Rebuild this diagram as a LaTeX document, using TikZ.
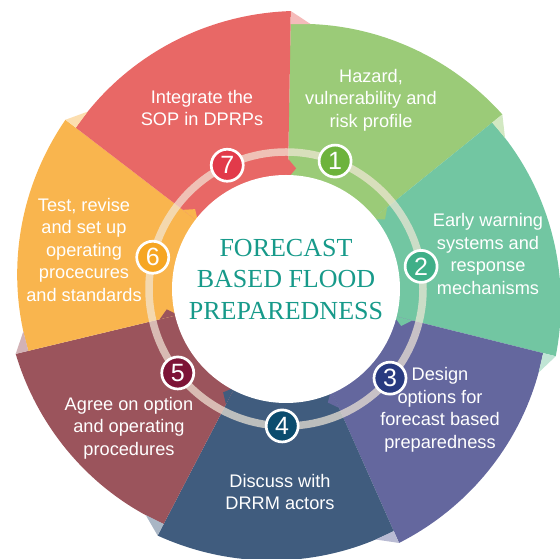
\documentclass[tikz,border=0pt]{standalone}
\usepackage{fontspec}
\setmainfont{Liberation Sans}
\newfontfamily\titleserif{Liberation Serif}
\usetikzlibrary{calc}

% petal colours
\definecolor{segred}{HTML}{E86866}
\definecolor{seggreen}{HTML}{9BCB78}
\definecolor{segteal}{HTML}{72C6A2}
\definecolor{segpurple}{HTML}{64679E}
\definecolor{segblue}{HTML}{405C7E}
\definecolor{segmaroon}{HTML}{9B545C}
\definecolor{segorange}{HTML}{F9B54E}
% step badge colours
\definecolor{numred}{HTML}{E23A4A}
\definecolor{numgreen}{HTML}{6DB33C}
\definecolor{numteal}{HTML}{3FAF88}
\definecolor{numpurple}{HTML}{283A80}
\definecolor{numblue}{HTML}{0B4C6E}
\definecolor{nummaroon}{HTML}{7D1437}
\definecolor{numorange}{HTML}{F6A623}
\definecolor{titleteal}{HTML}{179A8A}
\definecolor{ringtone}{HTML}{F2E8D8}

% one petal: colour, start angle (counter-clockwise end), end angle (clockwise end);
% the outer edge widens from radius 265 to 278 along the petal
\newcommand\petalshape[3]{%
  \fill[#1] (#2:100) -- plot[domain=#2:#3, samples=40] (\x:{265+13*(#2-\x)/(#2-#3)}) -- (#3:100) -- cycle;}
% pale folded flap at the outer corner of a petal: colour, boundary angle
\newcommand\petalfold[2]{%
  \fill[#1!45!white] (#2:278) -- (#2:265) -- ({#2-4.3}:266.1) -- cycle;}
% small pointer at the inner corner of a petal: colour, boundary angle
\newcommand\petaltip[2]{%
  \fill[#1] (#2:130) -- ({#2-3.8}:121) -- (#2:111) -- cycle;}

\tikzset{
  stepbadge/.style={circle, draw=white, line width=2.7pt, minimum size=32pt, inner sep=0pt,
    text=white, font=\fontsize{25}{25}\selectfont},
  steplabel/.style={text=white, align=center, inner sep=0pt,
    font=\fontsize{18.2}{22.5}\selectfont},
}

\begin{document}
\begin{tikzpicture}[x=1pt, y=1pt]
\useasboundingbox (0,0) rectangle (560,559);
\clip (0,0) rectangle (560,559);

\begin{scope}[shift={(286,270)}]
  % petals, clockwise from step 1
  \petalshape{seggreen}{89}{38.9}
  \petalshape{segteal}{38.9}{-14}
  \petalshape{segpurple}{-14}{-66}
  \petalshape{segblue}{-66}{-117.5}
  \petalshape{segmaroon}{-117.5}{-166.5}
  \petalshape{segorange}{193.5}{142.5}
  \petalshape{segred}{142.5}{89}

  % inner pointers
  \petaltip{segred}{89}
  \petaltip{seggreen}{38.9}
  \petaltip{segteal}{-14}
  \petaltip{segpurple}{-66}
  \petaltip{segblue}{-117.5}
  \petaltip{segmaroon}{-166.5}
  \petaltip{segorange}{142.5}

  % folded flaps
  \petalfold{segred}{89}
  \petalfold{seggreen}{38.9}
  \petalfold{segteal}{-14}
  \petalfold{segpurple}{-66}
  \petalfold{segblue}{-117.5}
  \petalfold{segmaroon}{-166.5}
  \petalfold{segorange}{142.5}

  % track ring and centre disc
  \draw[ringtone, opacity=0.7, line width=7.5pt] (0,0) circle (137);
  \fill[white] (0,0) circle (114);
  \node[titleteal, align=center, inner sep=0pt,
        font=\titleserif\fontsize{26}{31.5}\selectfont] (title) at (0,9.5)
        {FORECAST\\BASED FLOOD\\PREPAREDNESS};

  % numbered badges on the ring
  \node[stepbadge, fill=numgreen]  (n1) at (69:137)     {1};
  \node[stepbadge, fill=numteal]   (n2) at (9.5:137)    {2};
  \node[stepbadge, fill=numpurple] (n3) at (-40.6:137)  {3};
  \node[stepbadge, fill=numblue]   (n4) at (-91.6:137)  {4};
  \node[stepbadge, fill=nummaroon] (n5) at (-142.2:137) {5};
  \node[stepbadge, fill=numorange] (n6) at (166.6:137)  {6};
  \node[stepbadge, fill=numred]    (n7) at (115.4:137)  {7};
\end{scope}

% step descriptions
\node[steplabel] (l1) at (371,459) {Hazard,\\vulnerability and\\risk profile};
\node[steplabel] (l2) at (488,305) {Early warning\\systems and\\response\\mechanisms};
\node[steplabel] (l3) at (440,149) {Design\\options for\\forecast based\\preparedness};
\node[steplabel] (l4) at (280,67)  {Discuss with\\DRRM actors};
\node[steplabel] (l5) at (129,131) {Agree on option\\and operating\\procedures};
\node[steplabel] (l6) at (84,309)  {Test, revise\\and set up\\operating\\procecures\\and standards};
\node[steplabel] (l7) at (202,451) {Integrate the\\SOP in DPRPs};
\end{tikzpicture}
\end{document}
